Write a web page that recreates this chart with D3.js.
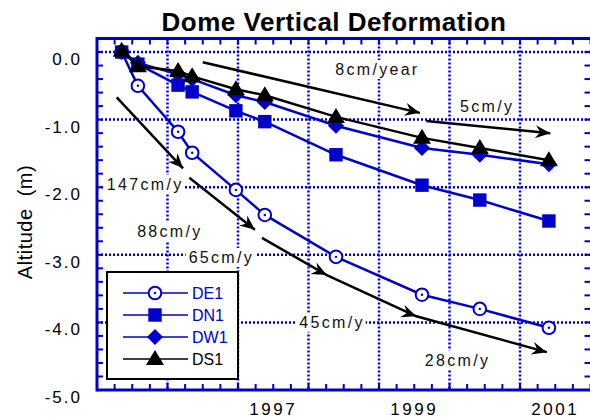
<!DOCTYPE html>
<html>
<head>
<meta charset="utf-8">
<title>Dome Vertical Deformation</title>
<script src="https://cdn.jsdelivr.net/npm/d3@7"></script>
<style>
  * { margin: 0; padding: 0; }
  body { background: #fff; }
  text { font-family: "Liberation Sans", Arial, sans-serif; }
</style>
</head>
<body>
<div id="chart"></div>
<script>
// survey dates (decimal years) and altitude change (m)
var dates = [1995.35, 1995.58, 1996.15, 1996.35, 1996.97, 1997.38, 1998.39, 1999.61, 2000.43, 2001.41];
var DE1 = [0.0, -0.50, -1.18, -1.49, -2.04, -2.41, -3.03, -3.59, -3.80, -4.08];
var DN1 = [0.0, -0.18, -0.49, -0.59, -0.87, -1.03, -1.52, -1.97, -2.19, -2.50];
var DW1 = [0.0, -0.16, -0.33, -0.40, -0.64, -0.74, -1.09, -1.42, -1.52, -1.66];
var DS1 = [0.02, -0.21, -0.28, -0.36, -0.55, -0.64, -0.96, -1.27, -1.42, -1.60];

var yTicks = [0, -1, -2, -3, -4, -5];
var xGrid = [1996, 1997, 1998, 1999, 2000, 2001];
var xLabels = [1997, 1999, 2001];

// rate arrows, in (year, m)
var rateLines = [
  [[1995.28, -0.67], [1996.22, -1.72]],
  [[1996.31, -1.86], [1997.24, -2.63]],
  [[1997.34, -2.75], [1998.26, -3.30], [1999.53, -3.91], [2001.38, -4.44]],
  [[1996.50, -0.15], [1999.58, -0.90]],
  [[1999.67, -1.02], [2001.43, -1.20]]
];
var rateText = [
  {t: "147cm/y", x: 1995.14, y: -2.04},
  {t: "88cm/y", x: 1995.57, y: -2.74},
  {t: "65cm/y", x: 1996.30, y: -3.12},
  {t: "45cm/y", x: 1997.87, y: -4.08},
  {t: "28cm/y", x: 1999.65, y: -4.64},
  {t: "8cm/year", x: 1998.38, y: -0.34},
  {t: "5cm/y", x: 2000.15, y: -0.89}
];

var series = [
  {name: "DE1", v: DE1, color: "#0000cc", sym: "circle"},
  {name: "DN1", v: DN1, color: "#0000cc", sym: "square"},
  {name: "DW1", v: DW1, color: "#0000cc", sym: "diamond"},
  {name: "DS1", v: DS1, color: "#000000", sym: "triangle"}
];

var W = 590, H = 420;
var blue = "#0000cc";
var svg = d3.select("#chart").append("svg").attr("width", W).attr("height", H);

var x = d3.scaleLinear().domain([1995, 2002]).range([97, 590.5]);
var y = d3.scaleLinear().domain([-5, 0.2]).range([390, 38.5]);

// title
svg.append("text").attr("x", 334).attr("y", 31).attr("text-anchor", "middle")
  .style("font-size", "26px").style("font-weight", "bold").style("letter-spacing", "0.5px")
  .text("Dome Vertical Deformation");

// y title
svg.append("text").attr("transform", "translate(32,222) rotate(-90)")
  .attr("text-anchor", "middle").style("font-size", "20px").style("letter-spacing", "0.5px")
  .attr("xml:space", "preserve").text("Altitude  (m)");

// grid
var grid = svg.append("g").attr("stroke", blue).attr("stroke-width", 2.5).attr("stroke-dasharray", "2,2");
grid.selectAll(".gx").data(xGrid).enter().append("line")
  .attr("x1", d => x(d)).attr("x2", d => x(d)).attr("y1", y(0.2)).attr("y2", y(-5));
grid.selectAll(".gy").data(yTicks.slice(0, 5)).enter().append("line")
  .attr("y1", d => y(d)).attr("y2", d => y(d)).attr("x1", x(1995)).attr("x2", x(2002));

// rate labels with white backing
var rl = svg.append("g").selectAll("g").data(rateText).enter().append("g");
rl.append("text").attr("x", d => x(d.x)).attr("y", d => y(d.y))
  .style("font-size", "16px").style("letter-spacing", "2.3px").attr("fill", "#111")
  .text(d => d.t)
  .each(function () {
    var b = this.getBBox();
    d3.select(this.parentNode).insert("rect", "text")
      .attr("x", b.x - 3).attr("y", b.y - 1).attr("width", b.width + 4).attr("height", b.height + 2)
      .attr("fill", "#fff");
  });

// arrows
svg.append("defs").append("marker").attr("id", "ah")
  .attr("viewBox", "-16 -8 18 16").attr("refX", 0).attr("refY", 0)
  .attr("markerWidth", 18).attr("markerHeight", 16).attr("markerUnits", "userSpaceOnUse")
  .attr("orient", "auto")
  .append("path").attr("d", "M0,0 L-15,-6.5 L-10,0 L-15,6.5 Z").attr("fill", "#000");

var ln = d3.line().x(d => x(d[0])).y(d => y(d[1]));
svg.append("g").selectAll("path").data(rateLines).enter().append("path")
  .attr("d", ln).attr("fill", "none").attr("stroke", "#000").attr("stroke-width", 2.5)
  .attr("marker-mid", "url(#ah)").attr("marker-end", "url(#ah)");

// symbols
function drawSym(g, sym, color) {
  if (sym === "circle") {
    g.append("circle").attr("r", 6.3).attr("fill", "#fff").attr("stroke", color).attr("stroke-width", 2);
    g.append("circle").attr("r", 1.2).attr("fill", color);
  } else if (sym === "square") {
    g.append("path").attr("d", d3.symbol(d3.symbolSquare, 180)()).attr("fill", color);
  } else if (sym === "diamond") {
    g.append("path").attr("d", d3.symbol(d3.symbolSquare, 130)()).attr("transform", "rotate(45)").attr("fill", color);
  } else {
    g.append("path").attr("d", "M0,-9 L9,6 L-9,6 Z").attr("fill", color);
  }
}

var pl = d3.line().x((d, i) => x(dates[i])).y(d => y(d));
series.forEach(function (s) {
  var g = svg.append("g");
  g.append("path").attr("d", pl(s.v)).attr("fill", "none").attr("stroke", s.color).attr("stroke-width", 2.5);
  s.v.forEach(function (v, i) {
    drawSym(g.append("g").attr("transform", "translate(" + x(dates[i]) + "," + y(v) + ")"), s.sym, s.color);
  });
});

// frame and ticks
var ax = svg.append("g").attr("stroke", blue);
var minorY = d3.range(0, 27).map(i => -5 + i * 0.2);
var minorX = d3.range(0, 29).map(i => 1995 + i * 0.25);
ax.selectAll(".ty").data(minorY).enter().append("line")
  .attr("x1", x(1995)).attr("x2", x(1995) + 6).attr("y1", d => y(d)).attr("y2", d => y(d)).attr("stroke-width", 2);
ax.selectAll(".tyr").data(minorY).enter().append("line")
  .attr("x1", x(2002)).attr("x2", x(2002) - 6).attr("y1", d => y(d)).attr("y2", d => y(d)).attr("stroke-width", 2);
ax.selectAll(".tx").data(minorX).enter().append("line")
  .attr("y1", y(-5)).attr("y2", y(-5) - 6).attr("x1", d => x(d)).attr("x2", d => x(d)).attr("stroke-width", 2);
ax.selectAll(".txt").data(minorX).enter().append("line")
  .attr("y1", y(0.2)).attr("y2", y(0.2) + 6).attr("x1", d => x(d)).attr("x2", d => x(d)).attr("stroke-width", 2);
ax.append("line").attr("x1", x(1995)).attr("x2", x(1995)).attr("y1", y(0.2) - 1.5).attr("y2", y(-5) + 1.5).attr("stroke-width", 3);
ax.append("line").attr("x1", x(1995)).attr("x2", x(2002)).attr("y1", y(0.2)).attr("y2", y(0.2)).attr("stroke-width", 3);
ax.append("line").attr("x1", x(1995)).attr("x2", x(2002)).attr("y1", y(-5)).attr("y2", y(-5)).attr("stroke-width", 3);

// tick labels
svg.selectAll(".yl").data(yTicks).enter().append("text")
  .attr("x", 82).attr("y", d => y(d) + 13).attr("text-anchor", "end")
  .style("font-size", "17px").style("letter-spacing", "2px")
  .text(d => d3.format(".1f")(d).replace("−", "-"));
svg.selectAll(".xl").data(xLabels).enter().append("text")
  .attr("x", d => x(d + 0.5)).attr("y", 415).attr("text-anchor", "middle")
  .style("font-size", "17px").style("letter-spacing", "2.5px")
  .text(d => d);

// legend
var lg = svg.append("g").attr("transform", "translate(107,272)");
lg.append("rect").attr("width", 131).attr("height", 107).attr("fill", "#fff").attr("stroke", "#000").attr("stroke-width", 2);
series.forEach(function (s, i) {
  var r = lg.append("g").attr("transform", "translate(0," + (21 + i * 22) + ")");
  r.append("line").attr("x1", 16).attr("x2", 81).attr("stroke", s.color).attr("stroke-width", 1.5);
  drawSym(r.append("g").attr("transform", "translate(48,0)"), s.sym, s.color);
  r.append("text").attr("x", 85).attr("y", 6).style("font-size", "16px").attr("fill", s.color).text(s.name);
});
</script>
</body>
</html>
